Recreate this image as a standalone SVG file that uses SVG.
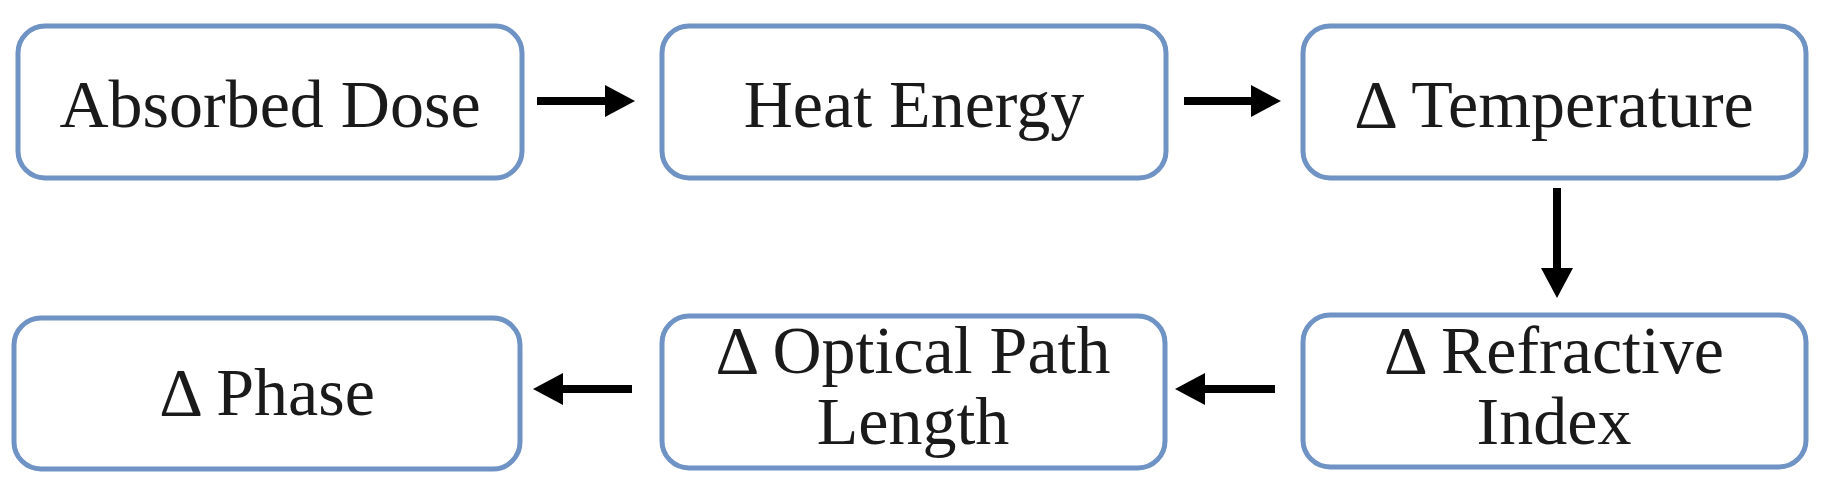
<svg xmlns="http://www.w3.org/2000/svg" width="1829" height="487" viewBox="0 0 1829 487">
<defs>
<style>
.box{fill:#ffffff;stroke:#6e93c4;stroke-width:5}
.lbl{font-family:"Liberation Serif","Times New Roman",serif;font-size:68px;fill:#1a1a1a;text-anchor:middle}
.con{stroke:#000;stroke-width:8;fill:none}
</style>
<marker id="ah" viewBox="0 0 30 32" refX="0" refY="16" markerWidth="30" markerHeight="32" markerUnits="userSpaceOnUse" orient="auto">
<path d="M0,0 L30,16 L0,32 Z" fill="#000"/>
</marker>
</defs>
<rect width="1829" height="487" fill="#ffffff"/>
<g id="n1"><rect class="box" x="18" y="26" width="504" height="152" rx="27"/><text class="lbl" x="270" y="127">Absorbed Dose</text></g>
<g id="n2"><rect class="box" x="662" y="26" width="504" height="152" rx="27"/><text class="lbl" x="914" y="127">Heat Energy</text></g>
<g id="n3"><rect class="box" x="1303" y="26" width="503" height="152" rx="27"/><text class="lbl" x="1554" y="127">Δ Temperature</text></g>
<g id="n4"><rect class="box" x="1303" y="315" width="503" height="152" rx="27"/><text class="lbl" x="1554" y="373">Δ Refractive</text><text class="lbl" x="1554" y="444">Index</text></g>
<g id="n5"><rect class="box" x="662" y="316" width="503" height="152" rx="27"/><text class="lbl" x="913" y="373">Δ Optical Path</text><text class="lbl" x="913" y="444">Length</text></g>
<g id="n6"><rect class="box" x="14" y="318" width="506" height="151" rx="27"/><text class="lbl" x="267" y="415">Δ Phase</text></g>
<g id="connectors">
<line class="con" x1="537" y1="101" x2="605" y2="101" marker-end="url(#ah)"/>
<line class="con" x1="1184" y1="101" x2="1251" y2="101" marker-end="url(#ah)"/>
<line class="con" x1="1557" y1="188" x2="1557" y2="268" marker-end="url(#ah)"/>
<line class="con" x1="1275" y1="389" x2="1205" y2="389" marker-end="url(#ah)"/>
<line class="con" x1="632" y1="389" x2="563" y2="389" marker-end="url(#ah)"/>
</g>
</svg>
